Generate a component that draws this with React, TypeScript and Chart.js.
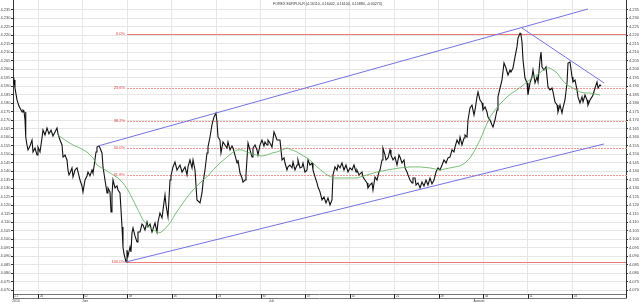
import { useEffect, useRef } from "react";
import { Chart, registerables } from "chart.js";
Chart.register(...registerables);

const TITLE = "FOREX EURPLN-R (4.16110, 4.16402, 4.16100, 4.15880, -0.00273)";

// time axis: trading-time index (weekly ticks every 7 units, Mondays)
const X_MIN = 0;
const X_MAX = 96.43;
const Y_MIN = 4.06824;
const Y_MAX = 4.24059;

const priceT = [
  0, 0.16, 0.31, 0.63, 0.94, 1.26, 1.42, 1.57, 1.73, 1.89, 1.97, 2.04, 2.2, 2.36, 2.67, 2.99, 3.15, 3.46, 3.78, 3.93,
  4.25, 4.56, 4.72, 5.03, 5.35, 5.66, 5.98, 6.29, 6.61, 6.92, 7.08, 7.39, 7.71, 7.87, 8.18, 8.49, 8.65, 8.81, 8.97, 9.28,
  9.44, 9.75, 10.07, 10.38, 10.54, 10.85, 11.01, 11.33, 11.64, 11.8, 12.11, 12.43, 12.58, 12.74, 13.06, 13.21, 13.53, 13.69, 14.0, 14.16,
  14.47, 14.79, 14.94, 15.26, 15.42, 15.57, 15.73, 16.05, 16.36, 16.52, 16.83, 17.15, 17.3, 17.46, 17.78,
  17.93, 18.09, 18.41, 18.56, 18.72, 18.88, 19.19, 19.51, 19.66, 19.98, 20.29, 20.45, 20.76, 21.08, 21.24, 21.55, 21.87, 22.18, 22.34, 22.65,
  22.81, 23.12, 23.44, 23.6, 23.91, 24.07, 24.38, 24.7, 24.85, 25.17, 25.48, 25.8, 26.27, 26.59, 27.06, 27.37, 27.53, 27.84, 28.16, 28.32,
  28.63, 28.94, 29.42, 29.73, 29.89, 30.2, 30.52, 30.67, 30.99, 31.3, 31.62, 31.93, 32.09, 32.25, 32.56,
  32.72, 33.03, 33.35, 33.66, 33.82, 34.14, 34.45, 34.61, 34.92, 35.24, 35.39, 35.71, 36.02, 36.18, 36.5, 36.65, 36.97, 37.28, 37.6, 37.75,
  38.07, 38.38, 38.54, 38.86, 39.17, 39.48, 39.64, 39.96, 40.11, 40.43, 40.74, 41.06, 41.37, 41.53, 42.0, 42.16, 42.32, 42.63, 42.79, 43.1,
  43.26, 43.57, 43.89, 44.05, 44.36, 44.68, 44.83, 45.15, 45.46, 45.62, 45.93, 46.25, 46.41, 46.72, 47.04, 47.19, 47.51, 47.82, 47.98,
  48.29, 48.61, 48.92, 49.24, 49.55, 49.87, 50.18, 50.34, 50.65, 50.97, 51.13, 51.44, 51.75, 52.07, 52.38, 52.7, 53.01, 53.33, 53.64, 53.96,
  54.11, 54.43, 54.9, 55.06, 55.37, 55.69, 55.84, 56.16, 56.47, 56.63, 56.95, 57.26, 57.57, 57.73, 58.05, 58.2, 58.52, 58.68, 58.99, 59.31,
  59.46, 59.78, 60.09, 60.41, 60.72, 60.88, 61.19, 61.51, 61.67, 61.98, 62.14, 62.45, 62.77, 62.92, 63.24, 63.4, 63.71, 64.03, 64.34, 64.65,
  64.97, 65.28, 65.6, 65.91, 66.23, 66.54, 66.86, 67.17, 67.49, 67.8, 68.12, 68.43, 68.74, 69.06, 69.37, 69.53, 69.85, 70.16, 70.32, 70.63,
  70.95, 71.1, 71.42, 71.58, 71.89, 72.2, 72.52, 72.68, 72.99, 73.15, 73.46, 73.78, 73.93, 74.25, 74.56, 74.72, 75.04, 75.35, 75.51, 75.82,
  76.14, 76.29, 76.61, 76.92, 77.24, 77.55, 77.87, 78.18, 78.34, 78.65, 78.97, 79.28, 79.44, 79.76, 79.91, 80.07, 80.23, 80.54, 80.86, 81.01,
  81.33, 81.64, 81.8, 82.12, 82.43, 82.59, 82.9, 83.06, 83.22, 83.53, 83.85, 84.16, 84.47, 84.79, 84.95, 85.26, 85.58, 85.73, 86.05, 86.36,
  86.52, 86.83, 87.15, 87.31, 87.62, 87.94, 88.09, 88.41, 88.72, 88.88, 89.19, 89.51, 89.67, 89.98, 90.3, 90.45, 90.77, 91.08, 91.24, 91.55,
  91.87, 92.03, 92.34, 92.5,
];

const priceV = [
  4.1912, 4.1935, 4.1888, 4.1818, 4.1782, 4.1759, 4.1747, 4.1759, 4.1753, 4.17, 4.1747, 4.16, 4.1553, 4.1524, 4.1547, 4.1582, 4.1512, 4.1535, 4.1494, 4.1541,
  4.1512, 4.1594, 4.1641, 4.1612, 4.1653, 4.1618, 4.1641, 4.1606, 4.163, 4.1653, 4.1618, 4.1582, 4.1553, 4.1482, 4.1494, 4.1465, 4.1406, 4.1377, 4.1388, 4.1418,
  4.1365, 4.1406, 4.1418, 4.1371, 4.1347, 4.1312, 4.1277, 4.1347, 4.1371, 4.1394, 4.1371, 4.1406, 4.1388, 4.1424, 4.1512, 4.1541, 4.1547, 4.1535, 4.1506, 4.1424,
  4.1347, 4.1271, 4.13, 4.1277, 4.1159, 4.1259, 4.1347, 4.13, 4.1312, 4.1288, 4.1271, 4.1071, 4.0953, 4.0912, 4.0865,
  4.0935, 4.09, 4.0953, 4.0924, 4.1036, 4.1065, 4.1018, 4.0983, 4.1041, 4.1041, 4.1088, 4.1082, 4.1053, 4.11, 4.1071, 4.1088, 4.1041, 4.1077, 4.1094, 4.1041,
  4.11, 4.1153, 4.1124, 4.1171, 4.1259, 4.12, 4.113, 4.1347, 4.1371, 4.1424, 4.1453, 4.1406, 4.1435, 4.1394, 4.1424, 4.1377, 4.1424, 4.1465, 4.1418, 4.1465,
  4.1406, 4.123, 4.1212, 4.1271, 4.133, 4.1406, 4.1506, 4.1541, 4.16, 4.1671, 4.1718, 4.1741, 4.1688, 4.16, 4.1582,
  4.1506, 4.1571, 4.1553, 4.1535, 4.1571, 4.1524, 4.1547, 4.1535, 4.1494, 4.1447, 4.1465, 4.1388, 4.1359, 4.1335, 4.1347, 4.1377, 4.1565, 4.1524, 4.1482, 4.1535,
  4.1553, 4.1524, 4.1494, 4.1553, 4.1582, 4.1547, 4.1571, 4.1553, 4.1582, 4.1565, 4.1541, 4.163, 4.16, 4.1582, 4.1582, 4.1524, 4.1465, 4.1477, 4.1447, 4.1406,
  4.1424, 4.1435, 4.1418, 4.1453, 4.1406, 4.1435, 4.1465, 4.1418, 4.1424, 4.1447, 4.1394, 4.1406, 4.1465, 4.1435, 4.1447, 4.1406, 4.1365, 4.133, 4.1306,
  4.1277, 4.123, 4.1247, 4.1212, 4.1242, 4.12, 4.123, 4.1377, 4.1424, 4.1406, 4.1435, 4.1418, 4.1447, 4.1406, 4.1435, 4.1394, 4.1418, 4.1406, 4.1435, 4.1394,
  4.1406, 4.1377, 4.1394, 4.1365, 4.1347, 4.133, 4.13, 4.1318, 4.133, 4.1288, 4.1365, 4.1347, 4.1394, 4.1406, 4.1465, 4.1535, 4.1494, 4.1465, 4.1477, 4.1524,
  4.1494, 4.1465, 4.1482, 4.1435, 4.1494, 4.1482, 4.1447, 4.1465, 4.1418, 4.1394, 4.1377, 4.1347, 4.133, 4.1359, 4.1359, 4.1318, 4.133, 4.13, 4.1335, 4.1312,
  4.1347, 4.1318, 4.1359, 4.1324, 4.1347, 4.1394, 4.1418, 4.1406, 4.1435, 4.1465, 4.1447, 4.1477, 4.1482, 4.1524, 4.1512, 4.1541, 4.1582, 4.1559, 4.16, 4.1553,
  4.1594, 4.1612, 4.16, 4.17, 4.1771, 4.1788, 4.173, 4.1759, 4.1836, 4.1865, 4.1818, 4.18, 4.1759, 4.1777, 4.1747, 4.1718, 4.17, 4.1671, 4.1659, 4.17,
  4.1759, 4.1836, 4.1888, 4.1935, 4.2035, 4.2006, 4.1965, 4.1994, 4.1982, 4.2006, 4.2071, 4.213, 4.2182, 4.221, 4.22, 4.2159, 4.2053, 4.1947, 4.1918, 4.1847,
  4.1918, 4.1953, 4.1994, 4.1918, 4.1953, 4.1924, 4.2053, 4.21, 4.2012, 4.1994, 4.2012, 4.1894, 4.1877, 4.1888, 4.1865, 4.1806, 4.1788, 4.1747, 4.1788, 4.1741,
  4.1771, 4.1818, 4.1918, 4.2035, 4.2041, 4.1953, 4.1924, 4.1935, 4.1877, 4.1836, 4.18, 4.1836, 4.1806, 4.1847, 4.1818, 4.1788, 4.1818, 4.1836, 4.1847, 4.1888,
  4.1924, 4.1888, 4.1906, 4.19,
];

const maT = [
  7.08, 8.18, 9.44, 10.54, 11.64, 12.58, 13.21, 13.69, 14.79, 15.73, 16.52, 17.3, 18.09, 18.88, 19.66, 20.45, 21.24, 22.02, 23.12, 23.91,
  24.7, 25.64, 26.74, 27.53, 28.32, 29.1, 29.89, 30.67, 31.46, 32.56, 33.66, 34.45, 35.24, 36.02, 36.81, 37.6, 38.38, 39.17, 39.96, 40.74,
  41.53, 42.32, 43.1, 43.89, 44.68, 45.46, 46.25, 47.04, 47.82, 48.61, 49.4, 50.34, 51.91, 53.01, 54.11, 55.69, 57.26, 58.83, 60.88, 62.45,
  64.03, 65.6, 67.17, 68.74, 70.32, 71.1, 71.89, 72.68, 73.46, 74.25, 75.04, 75.82, 76.61, 77.71, 78.5, 79.28, 80.07, 80.86, 81.64, 82.43,
  83.22, 84.0, 84.47, 84.95, 85.58, 86.05, 86.52, 87.15, 88.09, 89.19, 89.98, 90.77, 91.55, 92.34,
];
const maV = [
  4.1612, 4.1582, 4.1553, 4.1535, 4.1512, 4.1477, 4.1435, 4.1424, 4.14, 4.1377, 4.1359, 4.133, 4.1288, 4.123, 4.1171, 4.1112, 4.1077, 4.1053, 4.1036, 4.1059,
  4.1094, 4.1153, 4.1212, 4.1253, 4.1288, 4.1318, 4.1347, 4.1371, 4.1406, 4.1447, 4.1482, 4.1506, 4.1524, 4.1524, 4.1512, 4.15, 4.1494, 4.1488, 4.1494, 4.1506,
  4.1512, 4.1524, 4.1535, 4.1524, 4.1512, 4.1494, 4.1477, 4.1453, 4.1424, 4.14, 4.1377, 4.1359, 4.1359, 4.1359, 4.1359, 4.1377, 4.1394, 4.1406, 4.1418, 4.1424,
  4.1424, 4.1418, 4.1406, 4.1418, 4.143, 4.1447, 4.1477, 4.1524, 4.1582, 4.1653, 4.1718, 4.1759, 4.1794, 4.1836, 4.1859, 4.1877, 4.19, 4.1924, 4.1947, 4.1965,
  4.1988, 4.2006, 4.2006, 4.1994, 4.1977, 4.1953, 4.193, 4.1906, 4.1888, 4.1865, 4.1859, 4.1859, 4.1853, 4.1847,
];

const upperT = [13.37, 90.45];
const upperV = [4.1547, 4.2353];
const lowerT = [17.78, 92.97];
const lowerV = [4.0865, 4.1559];
const downT = [80.07, 92.97];
const downV = [4.2241, 4.1918];

const fibHigh = 4.2206;
const fibLow = 4.0865;
const fibStartT = 17.93;
const fibLevels = [0, 23.6, 38.2, 50, 61.8, 100];
const fibLabels = ["0.0%", "23.6%", "38.2%", "50.0%", "61.8%", "100.0%"];

const yTicks = [
  4.07, 4.075, 4.08, 4.085, 4.09, 4.095, 4.1, 4.105, 4.11, 4.115, 4.12, 4.125, 4.13, 4.135, 4.14, 4.145, 4.15,
  4.155, 4.16, 4.165, 4.17, 4.175, 4.18, 4.185, 4.19, 4.195, 4.2, 4.205, 4.21, 4.215, 4.22, 4.225, 4.23, 4.235,
];

const weekTicks = [0, 4, 11, 18, 25, 32, 39, 46, 53, 60, 67, 74, 81, 88, 96.43];
const weekLabels = ["21", "26", "02", "09", "16", "23", "30", "07", "14", "21", "28", "04", "11", "18", ""];
const monthT = [0, 11, 40.4, 72.6];
const monthLabels = ["2014", "Juni", "Juli", "August"];

const FONT = "'Liberation Sans', Arial, sans-serif";

export default function App() {
  const ref = useRef<HTMLCanvasElement | null>(null);
  useEffect(() => {
    document.body.style.margin = "0";
    const canvas = ref.current;
    if (!canvas) return;

    const line = (ts: number[], vs: number[]) => ts.map((t, i) => ({ x: t, y: vs[i] }));

    const drawFib = {
      id: "fibLines",
      beforeDatasetsDraw(chart: any) {
        const ctx = chart.ctx as CanvasRenderingContext2D;
        const xs = chart.scales.x;
        const ys = chart.scales.y;
        const x0 = Math.round(xs.getPixelForValue(fibStartT));
        const x1 = Math.round(xs.getPixelForValue(X_MAX));
        ctx.save();
        fibLevels.forEach((p) => {
          const v = fibHigh - (p / 100) * (fibHigh - fibLow);
          const py = Math.round(ys.getPixelForValue(v));
          const solid = p === 0 || p === 100;
          if (solid) {
            ctx.fillStyle = "rgb(238,120,120)";
            ctx.fillRect(x0, py, x1 - x0, 1);
          } else {
            ctx.fillStyle = "rgb(242,150,150)";
            for (let x = x0; x < x1; x += 3) ctx.fillRect(x, py, 2, 1);
          }
        });
        ctx.restore();
      },
    };

    const overlay = {
      id: "overlay",
      afterDraw(chart: any) {
        const ctx = chart.ctx as CanvasRenderingContext2D;
        const xs = chart.scales.x;
        const ys = chart.scales.y;
        const area = chart.chartArea;
        ctx.save();
        ctx.fillStyle = "#333";
        ctx.font = `3.6px ${FONT}`;
        ctx.textBaseline = "middle";
        ctx.textAlign = "left";
        ctx.fillText(TITLE, 273, 4);
        ctx.fillStyle = "#e03c3c";
        ctx.font = `4px ${FONT}`;
        ctx.textAlign = "right";
        fibLevels.forEach((p, i) => {
          const v = fibHigh - (p / 100) * (fibHigh - fibLow);
          ctx.fillText(fibLabels[i], xs.getPixelForValue(fibStartT) - 2, ys.getPixelForValue(v));
        });
        const top = area.bottom + 1;
        const bot = area.bottom + 5.5;
        ctx.strokeStyle = "#777";
        ctx.lineWidth = 1;
        ctx.beginPath();
        ctx.moveTo(area.left, top + 0.5);
        ctx.lineTo(area.right, top + 0.5);
        ctx.moveTo(area.left, bot);
        ctx.lineTo(area.right, bot);
        ctx.stroke();
        ctx.strokeStyle = "#222";
        ctx.beginPath();
        weekTicks.forEach((t) => {
          const px = Math.round(xs.getPixelForValue(t)) + 0.5;
          ctx.moveTo(px, top);
          ctx.lineTo(px, bot);
        });
        ctx.stroke();
        ctx.fillStyle = "#444";
        ctx.font = `3px ${FONT}`;
        ctx.textAlign = "left";
        weekTicks.forEach((t, i) => {
          if (!weekLabels[i]) return;
          ctx.fillText(weekLabels[i], xs.getPixelForValue(t) + 1.5, (top + bot) / 2);
        });
        ctx.font = `3.5px ${FONT}`;
        ctx.textBaseline = "top";
        monthT.forEach((t, i) => {
          ctx.fillText(monthLabels[i], xs.getPixelForValue(t) - 1, bot + 0.5);
        });
        ctx.restore();
      },
    };

    const yAfterFit = (w: number) => (scale: any) => {
      scale.width = w;
      scale.paddingTop = 0;
      scale.paddingBottom = 0;
    };
    const setYTicks = (scale: any) => {
      scale.ticks = yTicks.map((v) => ({ value: v }));
    };

    const chart = new Chart(canvas, {
      type: "line",
      data: {
        datasets: [
          {
            data: line(upperT, upperV),
            borderColor: "rgb(115,115,225)",
            borderWidth: 1,
            pointRadius: 0,
          },
          {
            data: line(lowerT, lowerV),
            borderColor: "rgb(115,115,225)",
            borderWidth: 1,
            pointRadius: 0,
          },
          {
            data: line(downT, downV),
            borderColor: "rgb(115,115,225)",
            borderWidth: 1,
            pointRadius: 0,
          },
          {
            data: line(maT, maV),
            borderColor: "rgb(90,175,90)",
            borderWidth: 0.8,
            pointRadius: 0,
          },
          {
            data: line(priceT, priceV),
            borderColor: "#111",
            borderWidth: 1.1,
            pointRadius: 0,
          },
        ] as any,
      },
      options: {
        responsive: false,
        animation: false,
        devicePixelRatio: 1,
        layout: { padding: 0 },
        events: [],
        plugins: {
          legend: { display: false },
          tooltip: { enabled: false },
          title: { display: false },
        },
        scales: {
          x: {
            type: "linear",
            min: X_MIN,
            max: X_MAX,
            afterBuildTicks: (scale: any) => {
              scale.ticks = weekTicks.map((v) => ({ value: v }));
            },
            afterFit: (scale: any) => {
              scale.height = 9;
              scale.paddingLeft = 0;
              scale.paddingRight = 0;
            },
            ticks: { display: false },
            grid: { color: "#e6e6e6", drawTicks: false, lineWidth: 1 },
            border: { display: false },
          },
          y: {
            type: "linear",
            position: "left",
            min: Y_MIN,
            max: Y_MAX,
            afterBuildTicks: setYTicks,
            afterFit: yAfterFit(13),
            ticks: {
              font: { size: 4, family: FONT },
              color: "#444",
              padding: 0.5,
              autoSkip: false,
              callback: (v: any) => Number(v).toFixed(3),
            },
            grid: { color: "#e6e6e6", tickLength: 2, tickColor: "#333" },
            border: { color: "#333", width: 1 },
          },
          y2: {
            type: "linear",
            position: "right",
            min: Y_MIN,
            max: Y_MAX,
            afterBuildTicks: setYTicks,
            afterFit: yAfterFit(14),
            ticks: {
              font: { size: 4, family: FONT },
              color: "#444",
              padding: 1,
              autoSkip: false,
              callback: (v: any) => Number(v).toFixed(3),
            },
            grid: { drawOnChartArea: false, tickLength: 2, color: "#333" },
            border: { color: "#333", width: 1 },
          },
        },
      } as any,
      plugins: [drawFib, overlay],
    });
    return () => chart.destroy();
  }, []);

  return (
    <div style={{ width: 640, height: 302, background: "#fff" }}>
      <canvas ref={ref} width={640} height={302} style={{ display: "block", width: 640, height: 302 }} />
    </div>
  );
}
